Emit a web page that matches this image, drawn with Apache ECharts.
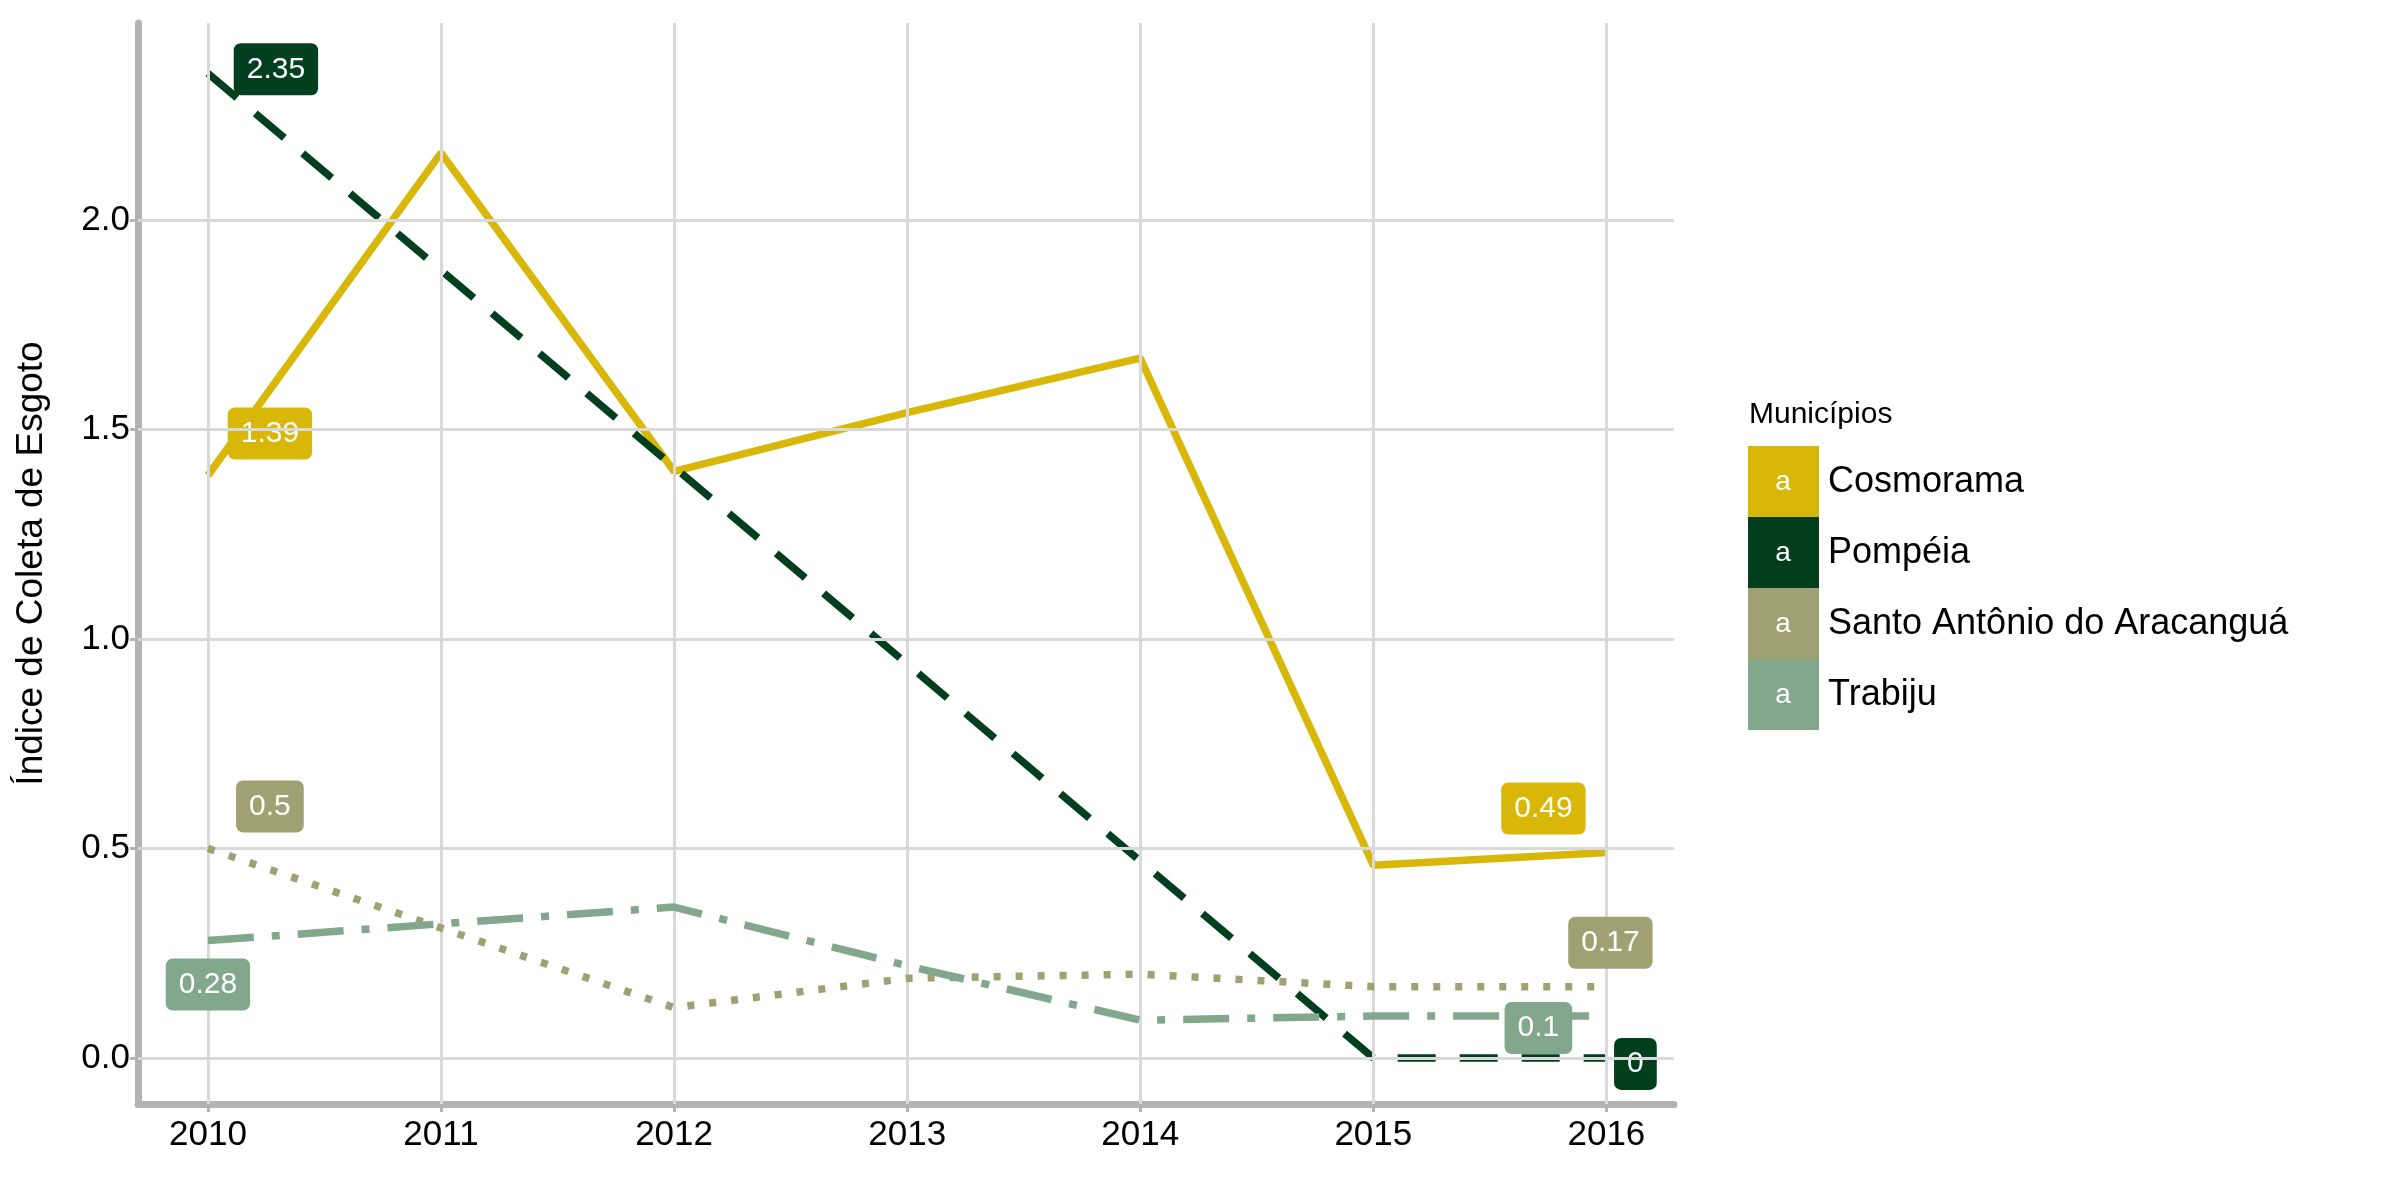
<!DOCTYPE html>
<html><head><meta charset="utf-8">
<script src="https://cdn.jsdelivr.net/npm/echarts@6/dist/echarts.min.js"></script>
<style>html,body{margin:0;background:#fff}#main{width:2400px;height:1200px}</style>
</head><body><div id="main"></div>
<script>
var anos = [2010, 2011, 2012, 2013, 2014, 2015, 2016];
var nomes = ['Cosmorama', 'Pompéia', 'Santo Antônio do Aracanguá', 'Trabiju'];
var cosmorama = [1.39, 2.16, 1.40, 1.54, 1.67, 0.46, 0.49];
var pompeia = [2.35, 1.88, 1.41, 0.94, 0.47, 0, 0];
var santoAntonio = [0.5, 0.31, 0.12, 0.19, 0.20, 0.17, 0.17];
var trabiju = [0.28, 0.32, 0.36, 0.22, 0.09, 0.10, 0.10];
var yTicks = [0, 0.5, 1.0, 1.5, 2.0];
var yTickLabels = ['0.0', '0.5', '1.0', '1.5', '2.0'];

var cores = ['#D9B708', '#013F1E', '#A0A172', '#82A78D'];
var tracos = ['solid', [38, 24], [7, 15], [46, 18, 8, 18]];
var valores = [cosmorama, pompeia, santoAntonio, trabiju];
// offsets of first/last label boxes (px)
var offIni = [[62, -42], [68, -4], [62, -42], [0, 44]];
var offFim = [[-63, -44], [29, 6], [4, -44], [-68, 12]];

var main = document.getElementById('main');
var mychart = echarts.init(main);

function rotulo(v, cor, off) {
  return {show: true, position: 'inside', offset: off, formatter: String(v),
    backgroundColor: cor, color: '#fff', fontSize: 30, fontFamily: 'Liberation Sans',
    padding: [12, 13, 10, 13], borderRadius: 7};
}

var series = nomes.map(function (n, i) {
  var vals = valores[i];
  return {
    name: n, type: 'line', symbol: 'circle', symbolSize: 0, showSymbol: true,
    lineStyle: {color: cores[i], width: 7.5, type: tracos[i], cap: 'butt'},
    itemStyle: {color: cores[i]},
    z: 3 + i,
    data: vals.map(function (v, j) {
      var d = {value: [anos[j], v]};
      if (j === 0) d.label = rotulo(v, cores[i], offIni[i]);
      else if (j === vals.length - 1) d.label = rotulo(v, cores[i], offFim[i]);
      return d;
    })
  };
});

// grid lines
series.push({
  type: 'line', data: [], silent: true, z: 1,
  markLine: {symbol: 'none', silent: true, label: {show: false},
    lineStyle: {color: '#d9d9d9', width: 3, type: 'solid'},
    data: yTicks.map(function (t) { return {yAxis: t}; })
      .concat(anos.map(function (a) { return {xAxis: a}; }))}
});

var legendG = [{type: 'text', left: 1749, top: 400,
  style: {text: 'Municípios', fontSize: 30, fontFamily: 'Liberation Sans', fill: '#000'}}];
nomes.forEach(function (n, i) {
  var y = 446 + i * 71;
  legendG.push({type: 'rect', left: 1748, top: y, shape: {width: 71, height: 71}, style: {fill: cores[i]}});
  legendG.push({type: 'text', x: 1783, y: y + 36, style: {text: 'a', fontSize: 28, fill: '#fff',
    align: 'center', verticalAlign: 'middle', fontFamily: 'Liberation Sans'}});
  legendG.push({type: 'text', x: 1828, y: y + 36, style: {text: n, fontSize: 36, fill: '#000',
    verticalAlign: 'middle', fontFamily: 'Liberation Sans'}});
});

var option = {
  animation: false,
  grid: {left: 138, right: 726, top: 23, bottom: 96},
  xAxis: {type: 'value', min: 2009.7, max: 2016.29,
    axisLine: {show: true, onZero: false, lineStyle: {color: '#b3b3b3', width: 7}},
    axisTick: {show: true, customValues: anos, length: 8, lineStyle: {color: '#b3b3b3', width: 3}},
    axisLabel: {customValues: anos, color: '#000', fontSize: 35, fontFamily: 'Liberation Sans', margin: 14,
      formatter: function (v) { return String(Math.round(v)); }},
    splitLine: {show: false}},
  yAxis: {type: 'value', min: -0.11, max: 2.47,
    name: 'Índice de Coleta de Esgoto', nameLocation: 'middle', nameGap: 88,
    nameTextStyle: {fontSize: 37, color: '#000', fontFamily: 'Liberation Sans'},
    axisLine: {show: true, onZero: false, lineStyle: {color: '#b3b3b3', width: 7}},
    axisTick: {show: true, customValues: yTicks, length: 8, lineStyle: {color: '#b3b3b3', width: 3}},
    axisLabel: {customValues: yTicks, color: '#000', fontSize: 35, fontFamily: 'Liberation Sans',
      formatter: function (v) { return yTickLabels[yTicks.indexOf(v)] || v.toFixed(1); }},
    splitLine: {show: false}},
  graphic: legendG,
  series: series
};
mychart.setOption(option);
</script></body></html>
